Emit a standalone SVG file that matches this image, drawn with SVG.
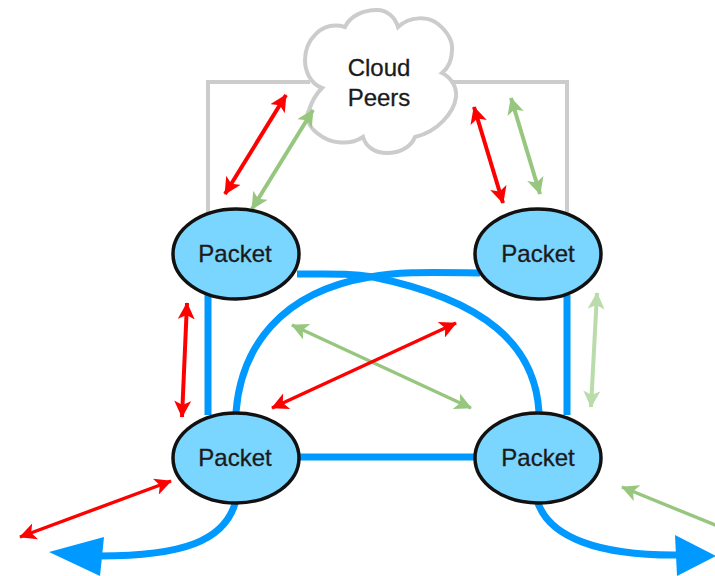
<svg xmlns="http://www.w3.org/2000/svg" width="715" height="576" viewBox="0 0 715 576">
<style>
.t{font-family:"Liberation Sans",Arial,sans-serif;font-size:24px;fill:#1a1a1a;text-anchor:middle;stroke:#1a1a1a;stroke-width:.3}
.n{fill:#7ad5ff;stroke:#111;stroke-width:3.5}
.b{fill:none;stroke:#0099ff;stroke-width:7}
.g{fill:none;stroke:#cccccc;stroke-width:4}
.r{stroke:#ff0000;stroke-width:4;fill:none}
.v{stroke:#97c67f;stroke-width:4;fill:none}
.l{stroke:#b9dcaa;stroke-width:4;fill:none}
.s{stroke-width:3.4}
</style>
<defs>
<marker id="mr" viewBox="0 0 10 10" refX="9.5" refY="5" markerUnits="userSpaceOnUse" markerWidth="17" markerHeight="17" orient="auto-start-reverse"><path d="M0 0L10 5L0 10L2.5 5Z" fill="#ff0000"/></marker>
<marker id="mv" viewBox="0 0 10 10" refX="9.5" refY="5" markerUnits="userSpaceOnUse" markerWidth="17" markerHeight="17" orient="auto-start-reverse"><path d="M0 0L10 5L0 10L2.5 5Z" fill="#97c67f"/></marker>
<marker id="ml" viewBox="0 0 10 10" refX="9.5" refY="5" markerUnits="userSpaceOnUse" markerWidth="17" markerHeight="17" orient="auto-start-reverse"><path d="M0 0L10 5L0 10L2.5 5Z" fill="#b9dcaa"/></marker>
</defs>
<g id="cloud">
<path class="g" d="M310 82H208V212"/>
<path class="g" d="M450 82H567V212"/>
<path fill="#fff" stroke="#cccccc" stroke-width="4" d="M322 88C311 84 305 72 305 60C305 42 320 20 345 27C350 16 363 10 377 10C387 10 395 17 398 27C410 16 428 16 438 24C448 32 453 42 452 50C452 60 448 68 442 73C452 78 457 88 456 97C454 113 437 132 415 137C411 147 400 153 387 153C375 153 366 147 363 137C351 145 331 145 317 133C309 127 305 117 309 110C312 101 316 94 322 88Z"/>
<text class="t" x="379" y="76">Cloud</text>
<text class="t" x="379" y="106">Peers</text>
</g>
<g id="connectors">
<path class="b" d="M208 295V415"/>
<path class="b" d="M567 295V415"/>
<path class="b" d="M300 457H475"/>
<path class="b" d="M236 412C241 348 280 292 370 277C395 272 420 272 480 273"/>
<path class="b" d="M539 412C535 345 485 300 373 277C350 273 330 274 297 274"/>
<path class="b" d="M236 500C226 542 180 556 100 556"/>
<path class="b" d="M537 500C548 538 600 556 680 555"/>
<path fill="#0099ff" d="M49 552L104 537L100 576Z"/>
<path fill="#0099ff" d="M716 556L675 535L677 576Z"/>
<path class="r" marker-start="url(#mr)" marker-end="url(#mr)" d="M225 194L286 95"/>
<path class="v" marker-start="url(#mv)" marker-end="url(#mv)" d="M252 209L313 110"/>
<path class="r" marker-start="url(#mr)" marker-end="url(#mr)" d="M503 203L474 107"/>
<path class="v" marker-start="url(#mv)" marker-end="url(#mv)" d="M540 194L511 98"/>
<path class="r" marker-start="url(#mr)" marker-end="url(#mr)" d="M187 303L182 417"/>
<path class="l" marker-start="url(#ml)" marker-end="url(#ml)" d="M597 293L591 407"/>
<path class="v s" marker-start="url(#mv)" marker-end="url(#mv)" d="M292 325L471 408"/>
<path class="r s" marker-start="url(#mr)" marker-end="url(#mr)" d="M456 323L272 408"/>
<path class="r s" marker-start="url(#mr)" marker-end="url(#mr)" d="M20 537L171 481"/>
<path class="v s" marker-start="url(#mv)" d="M622 487L720 527"/>
</g>
<g id="packet-tl"><ellipse class="n" cx="236" cy="254" rx="63" ry="45"/><text class="t" x="235" y="262">Packet</text></g>
<g id="packet-tr"><ellipse class="n" cx="538" cy="254" rx="63" ry="45"/><text class="t" x="538" y="262">Packet</text></g>
<g id="packet-bl"><ellipse class="n" cx="236" cy="458" rx="63" ry="45"/><text class="t" x="235" y="466">Packet</text></g>
<g id="packet-br"><ellipse class="n" cx="538" cy="458" rx="63" ry="45"/><text class="t" x="538" y="466">Packet</text></g>
</svg>
